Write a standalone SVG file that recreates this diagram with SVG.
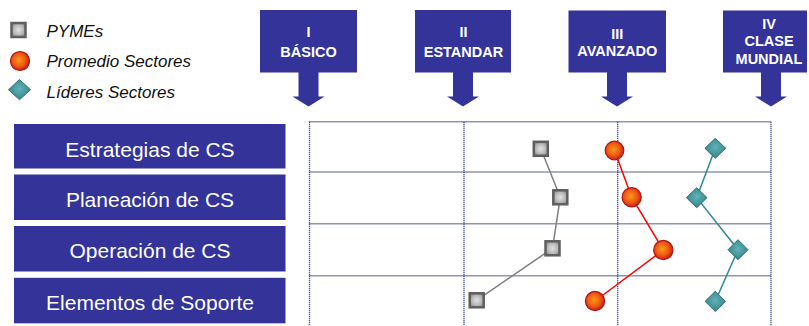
<svg xmlns="http://www.w3.org/2000/svg" width="809" height="326" viewBox="0 0 809 326">
<style>
.hdr{fill:#333399}
.row{fill:#333399}
.rowt{font-family:"Liberation Sans",Arial,sans-serif;font-size:21px;fill:#ffffff;text-anchor:middle}
.hdrt{font-family:"Liberation Sans",Arial,sans-serif;font-size:14.5px;font-weight:bold;fill:#ffffff;text-anchor:middle}
.leg{font-family:"Liberation Sans",Arial,sans-serif;font-size:17px;font-style:italic;fill:#111111}
.grid{stroke:#1f2d66;stroke-width:1.4;stroke-dasharray:1 1;fill:none}
.sq{fill:url(#gsq);stroke:#5f5f5f;stroke-width:2.5}
.ci{fill:url(#gci);stroke:#b0141a;stroke-width:1.2}
.di{fill:url(#gdi);stroke:#2c7378;stroke-width:1}
</style>
<defs>
<radialGradient id="gsq" cx="0.5" cy="0.5" r="0.6">
<stop offset="0" stop-color="#e2e2e2"/>
<stop offset="0.6" stop-color="#b8b8b8"/>
<stop offset="1" stop-color="#8a8a8a"/>
</radialGradient>
<radialGradient id="gci" cx="0.45" cy="0.45" r="0.6">
<stop offset="0" stop-color="#f89a1e"/>
<stop offset="0.55" stop-color="#f05a0f"/>
<stop offset="1" stop-color="#c0141c"/>
</radialGradient>
<radialGradient id="gdi" cx="0.5" cy="0.45" r="0.6">
<stop offset="0" stop-color="#5fb3b8"/>
<stop offset="1" stop-color="#347f86"/>
</radialGradient>
</defs>

<g id="legend">
<rect class="sq" x="11.5" y="23" width="14" height="14"/>
<text class="leg" x="46.5" y="36.5">PYMEs</text>
<circle class="ci" cx="20" cy="61" r="9.5"/>
<text class="leg" x="46.5" y="67">Promedio Sectores</text>
<path class="di" d="M19.5 79.5 L30.5 89.7 L19.5 99.8 L8.5 89.7 Z"/>
<text class="leg" x="46.5" y="98">Líderes Sectores</text>
</g>

<g id="hdr-I">
<path class="hdr" d="M260 10 H357 V72.5 H318.5 V96.5 H324.5 L308.5 106.5 L292.5 96.5 H298.5 V72.5 H260 Z"/>
<text class="hdrt" x="308.5" y="36.5">I</text>
<text class="hdrt" x="308.5" y="56.5">BÁSICO</text>
</g>
<g id="hdr-II">
<path class="hdr" d="M415 10 H511 V72.5 H473 V96.5 H479 L463 106.5 L447 96.5 H453 V72.5 H415 Z"/>
<text class="hdrt" x="463.5" y="36.5">II</text>
<text class="hdrt" x="463.5" y="56.5">ESTANDAR</text>
</g>
<g id="hdr-III">
<path class="hdr" d="M568.5 10.5 H666 V72.5 H627 V96.5 H633 L617 106.5 L601 96.5 H607 V72.5 H568.5 Z"/>
<text class="hdrt" x="617.3" y="39.3">III</text>
<text class="hdrt" x="617.3" y="56">AVANZADO</text>
</g>
<g id="hdr-IV">
<path class="hdr" d="M723 10.5 H807 V72.5 H781 V96.5 H787 L771 106.5 L755 96.5 H761 V72.5 H723 Z"/>
<text class="hdrt" x="769" y="29.3">IV</text>
<text class="hdrt" x="769" y="46.3">CLASE</text>
<text class="hdrt" x="769" y="64">MUNDIAL</text>
</g>

<g id="row-1"><rect class="row" x="14" y="124" width="271.5" height="44.5"/><text class="rowt" x="150" y="156.5">Estrategias de CS</text></g>
<g id="row-2"><rect class="row" x="14" y="174.5" width="271.5" height="45.5"/><text class="rowt" x="150" y="206.5">Planeación de CS</text></g>
<g id="row-3"><rect class="row" x="14" y="226" width="271.5" height="45.5"/><text class="rowt" x="150" y="258.3">Operación de CS</text></g>
<g id="row-4"><rect class="row" x="14" y="277.8" width="271.5" height="45.5"/><text class="rowt" x="150" y="310">Elementos de Soporte</text></g>

<g id="grid">
<path class="grid" d="M309.5 121.7 H771 M309.5 172 H771 M309.5 223.8 H771 M309.5 275.8 H771"/>
<path class="grid" d="M309.5 121.7 V326 M464 121.7 V326 M617.7 121.7 V326 M771 121.7 V326"/>
</g>

<g id="connectors">
<polyline points="540.8,148.8 560.3,197.3 552.5,248.3 476.7,300.3" fill="none" stroke="#7f7f7f" stroke-width="1.5"/>
<polyline points="614.5,150.5 631.7,197.2 663.3,250 595,301" fill="none" stroke="#ff0000" stroke-width="1.5"/>
<polyline points="715.3,148.3 696.7,197.7 738,249.7 715.3,301.3" fill="none" stroke="#2f8a8f" stroke-width="1.5"/>
</g>

<g id="pymes">
<rect class="sq" x="533.8" y="141.8" width="14" height="14"/>
<rect class="sq" x="553.3" y="190.3" width="14" height="14"/>
<rect class="sq" x="545.5" y="241.3" width="14" height="14"/>
<rect class="sq" x="469.7" y="293.3" width="14" height="14"/>
</g>
<g id="promedio">
<circle class="ci" cx="614.5" cy="150.5" r="9.3"/>
<circle class="ci" cx="631.7" cy="197.2" r="9.6"/>
<circle class="ci" cx="663.3" cy="250" r="9.6"/>
<circle class="ci" cx="595" cy="301" r="9.6"/>
</g>
<g id="lideres">
<path class="di" d="M715.3 138.3 L725.7 148.3 L715.3 158.3 L704.9 148.3 Z"/>
<path class="di" d="M696.7 187.7 L707 197.7 L696.7 207.7 L686.4 197.7 Z"/>
<path class="di" d="M738 239.7 L748 249.7 L738 259.7 L728 249.7 Z"/>
<path class="di" d="M715.3 291.3 L725.5 301.3 L715.3 311.5 L705.1 301.3 Z"/>
</g>
</svg>
